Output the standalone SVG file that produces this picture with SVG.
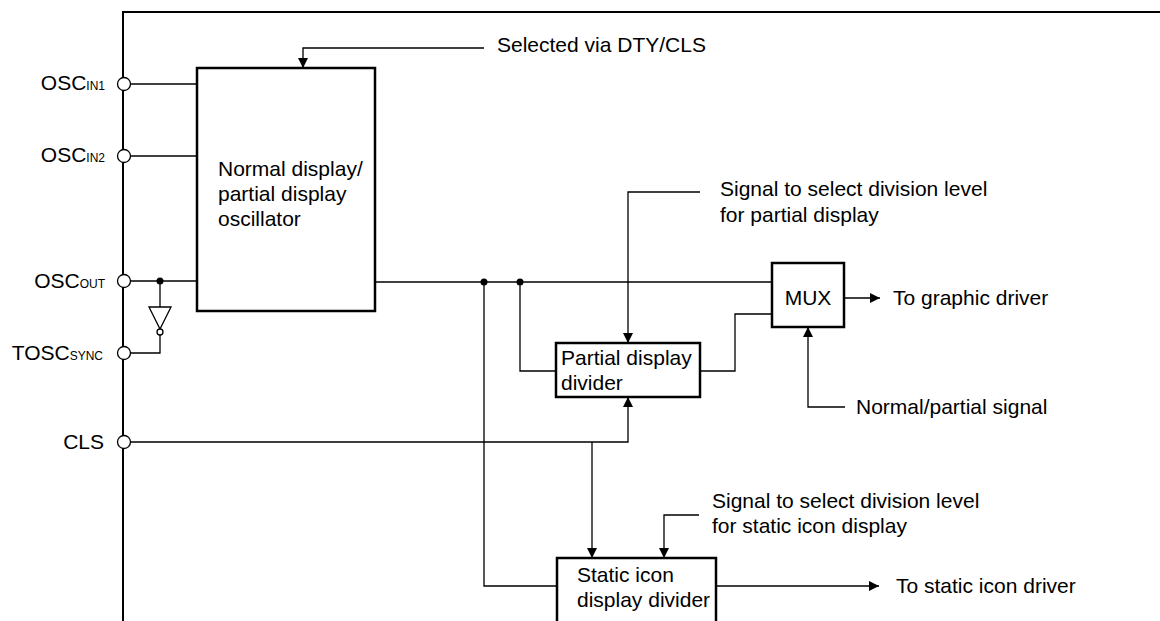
<svg xmlns="http://www.w3.org/2000/svg" width="1160" height="621" viewBox="0 0 1160 621">
<defs>
<style>
.t{font-family:"Liberation Sans",Arial,sans-serif;font-size:21px;fill:#000}
.sub{font-size:12px}
.box{fill:#fff;stroke:#000;stroke-width:2.5}
.w{fill:none;stroke:#000;stroke-width:1.3}
.frame{fill:none;stroke:#000;stroke-width:2}
.pin{fill:#fff;stroke:#000;stroke-width:1.3}
.dot{fill:#000}
</style>
<marker id="ah" viewBox="0 0 10 10" refX="10" refY="5" markerWidth="10" markerHeight="10" markerUnits="userSpaceOnUse" orient="auto">
<path d="M0,0 L10,5 L0,10 z" fill="#000"/>
</marker>
</defs>
<rect width="1160" height="621" fill="#fff"/>
<g id="frame">
<path class="frame" d="M1160,12 H123 V621"/>
</g>
<g id="connectors">
<path class="w" d="M130,84 H197"/>
<path class="w" d="M130,156 H197"/>
<path class="w" d="M130,281 H197"/>
<path class="w" d="M160,281 V307"/>
<path class="w" d="M160,335 V353 H130"/>
<path class="w" d="M484,48 H303 V68" marker-end="url(#ah)"/>
<path class="w" d="M375,282 H772"/>
<path class="w" d="M520,282 V371 H556"/>
<path class="w" d="M484,282 V586 H557"/>
<path class="w" d="M700,192 H628 V343" marker-end="url(#ah)"/>
<path class="w" d="M700,371 H735 V314 H772"/>
<path class="w" d="M130,442 H628 V397" marker-end="url(#ah)"/>
<path class="w" d="M592,442 V558" marker-end="url(#ah)"/>
<path class="w" d="M699,515 H664 V558" marker-end="url(#ah)"/>
<path class="w" d="M844,298 H880" marker-end="url(#ah)"/>
<path class="w" d="M845,407 H808 V327" marker-end="url(#ah)"/>
<path class="w" d="M716,586 H879" marker-end="url(#ah)"/>
<circle class="dot" cx="160" cy="281" r="3.5"/>
<circle class="dot" cx="484" cy="282" r="3.5"/>
<circle class="dot" cx="520" cy="282" r="3.5"/>
</g>
<g id="inverter">
<path d="M149,307 H171 L160,329 Z" fill="#fff" stroke="#000" stroke-width="1.3"/>
<circle cx="160" cy="332" r="3" fill="#fff" stroke="#000" stroke-width="1.3"/>
</g>
<g id="pin-oscin1">
<circle class="pin" cx="124" cy="84" r="6.5"/>
<text class="t" x="105" y="90" text-anchor="end">OSC<tspan class="sub">IN1</tspan></text>
</g>
<g id="pin-oscin2">
<circle class="pin" cx="124" cy="156" r="6.5"/>
<text class="t" x="105" y="162" text-anchor="end">OSC<tspan class="sub">IN2</tspan></text>
</g>
<g id="pin-oscout">
<circle class="pin" cx="124" cy="281" r="6.5"/>
<text class="t" x="105" y="288" text-anchor="end">OSC<tspan class="sub">OUT</tspan></text>
</g>
<g id="pin-toscsync">
<circle class="pin" cx="124" cy="353" r="6.5"/>
<text class="t" x="103" y="360" text-anchor="end">TOSC<tspan class="sub">SYNC</tspan></text>
</g>
<g id="pin-cls">
<circle class="pin" cx="124" cy="442" r="6.5"/>
<text class="t" x="104" y="449" text-anchor="end">CLS</text>
</g>
<g id="oscillator">
<rect class="box" x="197" y="68" width="178" height="243"/>
<text class="t" x="218" y="176">Normal display/</text>
<text class="t" x="218" y="201">partial display</text>
<text class="t" x="218" y="226">oscillator</text>
</g>
<g id="partial-divider">
<rect class="box" x="556" y="343" width="144" height="54"/>
<text class="t" x="561" y="365">Partial display</text>
<text class="t" x="561" y="390">divider</text>
</g>
<g id="mux">
<rect class="box" x="772" y="263" width="72" height="64"/>
<text class="t" x="808" y="305" text-anchor="middle">MUX</text>
</g>
<g id="static-divider">
<rect class="box" x="557" y="558" width="159" height="100"/>
<text class="t" x="577" y="582">Static icon</text>
<text class="t" x="577" y="607">display divider</text>
</g>
<g id="labels">
<text class="t" x="497" y="52">Selected via DTY/CLS</text>
<text class="t" x="720" y="196">Signal to select division level</text>
<text class="t" x="720" y="222">for partial display</text>
<text class="t" x="893" y="305">To graphic driver</text>
<text class="t" x="856" y="414">Normal/partial signal</text>
<text class="t" x="712" y="508">Signal to select division level</text>
<text class="t" x="712" y="533">for static icon display</text>
<text class="t" x="896" y="593">To static icon driver</text>
</g>
</svg>
